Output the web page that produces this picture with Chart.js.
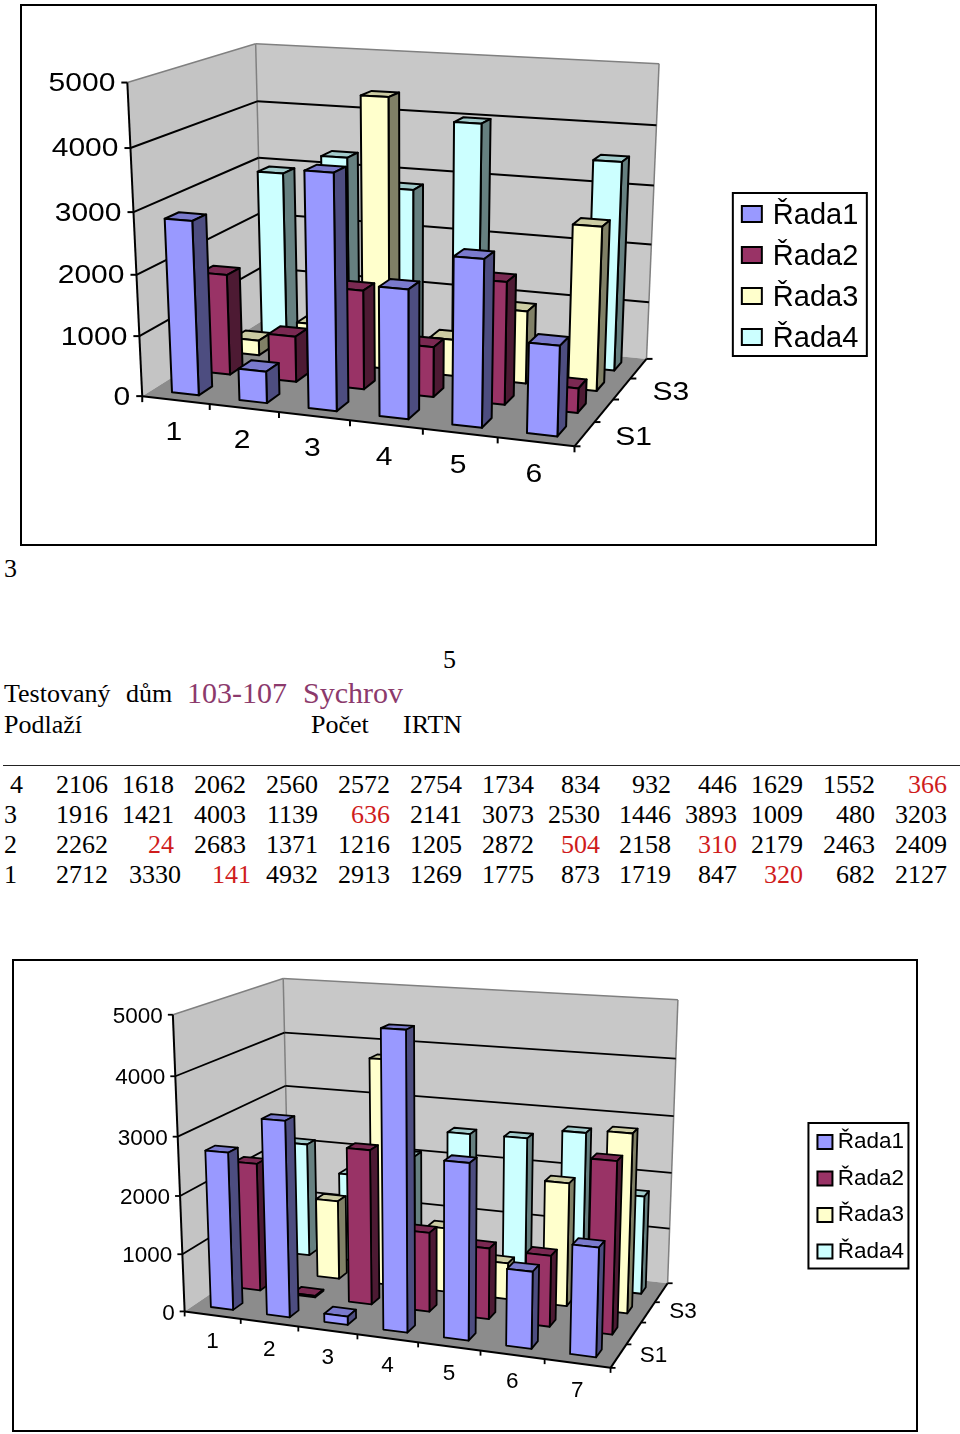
<!DOCTYPE html>
<html lang="cs"><head><meta charset="utf-8">
<title>Testovaný dům</title>
<script src="https://cdn.jsdelivr.net/npm/chart.js@4"></script>
<style>
html,body{margin:0;padding:0;background:#fff;width:960px;height:1434px;overflow:hidden}
.frame{position:absolute;box-sizing:border-box;border:2px solid #000;background:#fff}
.frame canvas{position:absolute;left:0;top:0}
.t{position:absolute;font-family:"Liberation Serif",serif;font-size:26px;line-height:30px;height:30px;color:#000;white-space:pre}
</style></head><body>
<div class="frame" id="f1" style="left:20px;top:4px;width:857px;height:542px"><canvas id="c1" width="853" height="538"></canvas></div>
<div class="frame" id="f2" style="left:12px;top:959px;width:906px;height:473px"><canvas id="c2" width="906" height="469"></canvas></div>
<div id="txt"></div>
<script>
// ---- data ----
const seriesNames = ['Řada1','Řada2','Řada3','Řada4'];
const depthLabels = ['S1','S2','S3','S4'];
const chart1Categories = ['1','2','3','4','5','6'];
const chart1Rada1 = [2850, 520, 3770, 2070, 2640, 1420];
const chart1Rada2 = [1700, 770, 1650, 830, 2000, 400];
const chart1Rada3 = [260, 650, 4550, 620, 1220, 2710];
const chart1Rada4 = [2930, 3280, 2810, 4000, 300, 3520];
const chart2Categories = ['1','2','3','4','5','6','7'];
const chart2Rada1 = [2712, 3330, 141, 4932, 2913, 1269, 1775];
const chart2Rada2 = [2262, 24, 2683, 1371, 1216, 1205, 2872];
const chart2Rada3 = [1916, 1421, 4003, 1139, 636, 2141, 3073];
const chart2Rada4 = [2106, 1618, 2062, 2560, 2572, 2754, 1734];
const tableFloors = ['4','3','2','1'];
const tableRow4 = [2106,1618,2062,2560,2572,2754,1734,834,932,446,1629,1552,366];
const tableRow3 = [1916,1421,4003,1139,636,2141,3073,2530,1446,3893,1009,480,3203];
const tableRow2 = [2262,24,2683,1371,1216,1205,2872,504,2158,310,2179,2463,2409];
const tableRow1 = [2712,3330,141,4932,2913,1269,1775,873,1719,847,320,682,2127];
const redCells = {'0,12':1,'1,4':1,'2,1':1,'2,7':1,'2,9':1,'3,2':1,'3,10':1};

// ---- styling ----
const fills = ['#9999ff','#993366','#ffffcc','#ccffff'];
const sans = '"Liberation Sans", Arial, sans-serif';
function shade(hex,f){const n=parseInt(hex.slice(1),16);
  return 'rgb('+[(n>>16)&255,(n>>8)&255,n&255].map(c=>Math.round(c*f)).join(',')+')';}

// Fit a 3x4 camera matrix (u,v,w -> page pixel) from box corners.
function fitCamera(pts){
  const n=11, A=Array.from({length:n},()=>new Array(n+1).fill(0));
  const add=(r,b)=>{for(let i=0;i<n;i++){for(let j=0;j<n;j++)A[i][j]+=r[i]*r[j];A[i][n]+=r[i]*b;}};
  for(const [u,v,w,x,y] of pts){
    add([u,v,w,1,0,0,0,0,-x*u,-x*v,-x*w],x);
    add([0,0,0,0,u,v,w,1,-y*u,-y*v,-y*w],y);
  }
  for(let c=0;c<n;c++){
    let p=c;for(let r=c+1;r<n;r++)if(Math.abs(A[r][c])>Math.abs(A[p][c]))p=r;
    [A[c],A[p]]=[A[p],A[c]];
    for(let r=0;r<n;r++){if(r===c)continue;const f=A[r][c]/A[c][c];for(let k=c;k<=n;k++)A[r][k]-=f*A[c][k];}
  }
  const m=A.map((row,i)=>row[n]/row[i]);
  return (u,v,w)=>{const d=m[8]*u+m[9]*v+m[10]*w+1;
    return [(m[0]*u+m[1]*v+m[2]*w+m[3])/d,(m[4]*u+m[5]*v+m[6]*w+m[7])/d];};
}

const box3d = {
  id:'box3d',
  beforeDatasetsDraw(chart,args,o){
    const ctx=chart.ctx, P=fitCamera(o.corners), area=chart.chartArea;
    const xS=chart.scales.x,yS=chart.scales.y,zS=chart.scales.depth;
    const U=px=>(px-area.left)/area.width, W=px=>(px-area.left)/area.width, V=py=>(area.bottom-py)/area.height;
    ctx.save();
    ctx.translate(-o.origin[0],-o.origin[1]);
    const poly=(pts,fill,stroke,lw)=>{ctx.beginPath();pts.forEach((p,i)=>i?ctx.lineTo(p[0],p[1]):ctx.moveTo(p[0],p[1]));ctx.closePath();
      if(fill){ctx.fillStyle=fill;ctx.fill();}
      if(stroke){ctx.strokeStyle=stroke;ctx.lineWidth=lw;ctx.lineJoin='round';ctx.stroke();}};
    const line=(a,b,c,lw)=>{ctx.beginPath();ctx.moveTo(a[0],a[1]);ctx.lineTo(b[0],b[1]);ctx.strokeStyle=c;ctx.lineWidth=lw;ctx.stroke();};
    // walls and floor
    poly([P(0,0,0),P(0,0,1),P(0,1,1),P(0,1,0)],'#c4c4c4');
    poly([P(0,0,1),P(1,0,1),P(1,1,1),P(0,1,1)],'#c8c8c8');
    poly([P(0,0,0),P(1,0,0),P(1,0,1),P(0,0,1)],'#8c8c8c');
    line(P(0,1,0),P(0,1,1),'#808080',1.5);line(P(0,1,1),P(1,1,1),'#808080',1.5);
    line(P(1,1,1),P(1,0,1),'#808080',1.5);line(P(0,1,1),P(0,0,1),'#808080',1.5);
    // value gridlines and ticks
    ctx.textBaseline='middle';
    const label=(s,x,y,al,font,sx)=>{ctx.save();ctx.translate(x,y+o.labelDy);ctx.scale(sx,1);ctx.font=font;ctx.fillStyle='#000';ctx.textAlign=al;ctx.fillText(s,0,0);ctx.restore();};
    yS.ticks.forEach(t=>{
      const v=V(yS.getPixelForValue(t.value)),a=P(0,v,0),b=P(0,v,1),c=P(1,v,1);
      if(t.value>0&&t.value<yS.max){line(a,b,'#000',o.gridLine);line(b,c,'#000',o.gridLine);}
      line([a[0]-o.tickLen,a[1]],a,'#000',o.gridLine);
      label(String(t.value),a[0]-o.tickLen-o.labelGap,a[1],'right',o.font,o.fontScaleX);
    });
    // axes
    line(P(0,0,0),P(0,1,0),'#000',2);line(P(0,0,0),P(1,0,0),'#000',2);line(P(1,0,0),P(1,0,1),'#000',2);
    for(let i=0;i<=xS.ticks.length;i++){
      const u=i/xS.ticks.length,a=P(u,0,0);
      line(a,[a[0],a[1]+o.tickLen],'#000',o.gridLine);
    }
    xS.ticks.forEach((t,i)=>{const a=P(U(xS.getPixelForTick(i)),0,0);
      label(String(xS.getLabelForValue(t.value)),a[0]+o.catLabel[0],a[1]+o.catLabel[1],'center',o.font,o.fontScaleX);});
    const n=zS.ticks.length;
    for(let i=0;i<=n;i++){const a=P(1,0,i/n);line(a,[a[0]+o.tickLen,a[1]],'#000',o.gridLine);}
    zS.ticks.forEach((t,i)=>{if(i%2)return;const a=P(1,0,W(zS.getPixelForTick(i)));
      label(String(zS.getLabelForValue(t.value)),a[0]+o.depthLabel[0],a[1]+o.depthLabel[1],'center',o.font,o.fontScaleX);});
    // bars: back row first, left to right
    for(let d=chart.data.datasets.length-1;d>=0;d--){
      const meta=chart.getDatasetMeta(d),col=chart.data.datasets[d].backgroundColor;
      const zc=W(zS.getPixelForValue(d)),hd=o.depthFrac/n/2,w0=zc-hd,w1=zc+hd;
      meta.data.forEach(el=>{
        const u0=U(el.x-el.width/2),u1=U(el.x+el.width/2),v=V(el.y);
        poly([P(u0,v,w0),P(u1,v,w0),P(u1,v,w1),P(u0,v,w1)],shade(col,.8),'#000',o.barLine);
        poly([P(u1,0,w0),P(u1,0,w1),P(u1,v,w1),P(u1,v,w0)],shade(col,.5),'#000',o.barLine);
        poly([P(u0,0,w0),P(u1,0,w0),P(u1,v,w0),P(u0,v,w0)],col,'#000',o.barLine);
      });
    }
    ctx.restore();
    return false;
  },
  afterDraw(chart,args,o){
    const h=chart.legend.legendHitBoxes,ctx=chart.ctx,S=o.legendSwatch;
    const l=h[0].left+o.legendFrame[0],t=h[0].top+o.legendFrame[1];
    const r=h[0].left+o.legendFrame[2],bt=h[h.length-1].top+o.legendFrame[3];
    ctx.save();ctx.strokeStyle='#000';ctx.lineWidth=2;ctx.strokeRect(l,t,r-l,bt-t);
    // legend swatches wider than Chart.js allows next to the label
    h.forEach((b,i)=>{ctx.fillStyle=fills[i];ctx.beginPath();ctx.rect(b.left+S[0],b.top+S[1],S[2],S[3]);ctx.fill();ctx.stroke();});
    ctx.restore();
  }
};

function makeChart(id,labels,values,o){
  return new Chart(document.getElementById(id),{
    type:'bar',
    data:{labels,datasets:values.map((data,i)=>({label:seriesNames[i],data,backgroundColor:fills[i],borderColor:'#000',borderWidth:2,
      grouped:false,categoryPercentage:1,barPercentage:o.barFrac}))},
    options:{responsive:false,animation:false,
      layout:{padding:{right:o.padRight,top:o.padTop}},
      scales:{
        x:{type:'category',display:false,offset:true},
        y:{type:'linear',display:false,min:0,max:5000,ticks:{stepSize:1000}},
        depth:{type:'category',axis:'x',display:false,labels:depthLabels,offset:true}
      },
      plugins:{tooltip:{enabled:false},
        legend:{position:'right',align:'center',labels:{boxWidth:o.legendBox[0],boxHeight:o.legendBox[1],padding:o.legendGap,color:'#000',
          font:{size:o.legendSize,family:sans},
          generateLabels:c=>Chart.defaults.plugins.legend.labels.generateLabels(c).map(l=>Object.assign(l,{fillStyle:'rgba(0,0,0,0)',strokeStyle:'rgba(0,0,0,0)',lineWidth:0}))}},
        box3d:o}
    },
    plugins:[box3d]
  });
}

makeChart('c1',chart1Categories,[chart1Rada1,chart1Rada2,chart1Rada3,chart1Rada4],{
  origin:[22,6],
  corners:[[0,0,0,143,396],[1,0,0,574,447],[0,0,1,262,321],[1,0,1,647,358],[0,1,0,127,82],[0,1,1,256,44],[1,1,1,659,64]],
  font:'25px '+sans,fontScaleX:1.2,tickLen:6,labelGap:6,catLabel:[-2,32],depthLabel:[49,2.5],labelDy:1.5,gridLine:2,
  barFrac:.4,depthFrac:.42,barLine:2,padRight:6.7,padTop:4,legendBox:[16.5,16],legendGap:12,legendSize:29,
  legendFrame:[-9,-8,125,32],legendSwatch:[0,5,20,16]
});
makeChart('c2',chart2Categories,[chart2Rada1,chart2Rada2,chart2Rada3,chart2Rada4],{
  origin:[14,961],
  corners:[[0,0,0,185,1312],[1,0,0,610,1368],[0,0,1,289,1240],[1,0,1,668,1283],[0,1,0,173,1014],[0,1,1,283,979],[1,1,1,678,1000]],
  font:'22.5px '+sans,fontScaleX:1,tickLen:5,labelGap:5,catLabel:[0,25],depthLabel:[35,-2],labelDy:2,gridLine:1.8,
  barFrac:.4,depthFrac:.34,barLine:1.8,padRight:6,padTop:3,legendBox:[10,14],legendGap:14,legendSize:22.5,
  legendFrame:[-8,-8,92,28],legendSwatch:[1,4,15,14]
});

// ---- page text ----
const txt=document.getElementById('txt');
function put(s,x,cy,opt={}){const e=document.createElement('span');e.className='t';e.textContent=s;
  e.style.top=(cy-15)+'px';
  if(opt.right)e.style.right=(960-x)+'px';else e.style.left=x+'px';
  if(opt.color)e.style.color=opt.color;
  if(opt.size)e.style.fontSize=opt.size+'px';
  txt.appendChild(e);}
put('3',4,569);put('5',443,660);
put('Testovaný',4,694);put('dům',126,694);
put('103-107',187,693,{size:30,color:'#8c3a6c'});put('Sychrov',303,693,{size:30,color:'#8c3a6c'});
put('Podlaží',4,725);put('Počet',311,725);put('IRTN',403,725);
const rule=document.createElement('div');rule.style.cssText='position:absolute;left:3px;top:765px;width:957px;height:1px;background:#222';txt.appendChild(rule);
const colRight=[108,174,246,318,390,462,534,600,671,737,803,875,947];
[tableRow4,tableRow3,tableRow2,tableRow1].forEach((row,r)=>{
  const cy=785+30*r;
  put(tableFloors[r],r===0?10:4,cy);
  row.forEach((v,c)=>{
    let x=colRight[c];
    if(r===3&&c===1)x=181; if(r===3&&c===2)x=251;
    put(String(v),x,cy,{right:true,color:redCells[r+','+c]?'#cf1c1c':null});
  });
});
</script>
</body></html>
